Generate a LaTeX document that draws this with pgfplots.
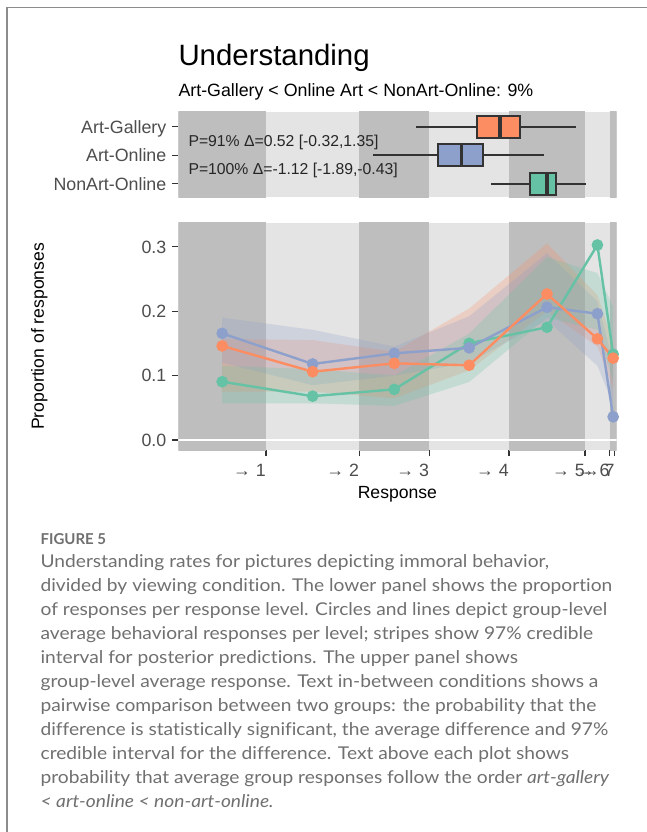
\documentclass[border=0pt]{standalone}
\usepackage{fontspec}
\setmainfont{Liberation Sans}
\newfontfamily\capfont[FakeStretch=1.09, Ligatures=NoCommon]{Lato}
\newfontfamily\figfont{Lato}
\usepackage{pgfplots}
\usepackage{pgfplotstable}
\usepgfplotslibrary{statistics}
\pgfplotsset{compat=1.18}

\definecolor{cAG}{HTML}{FC8D62}
\definecolor{cAO}{HTML}{8DA0CB}
\definecolor{cNA}{HTML}{66C2A5}
\definecolor{stripeD}{HTML}{BEBEBE}
\definecolor{stripeL}{HTML}{E4E4E4}
\definecolor{tickcol}{HTML}{333333}
\definecolor{ticklab}{HTML}{4D4D4D}
\definecolor{capgrey}{HTML}{707070}
\definecolor{framecol}{HTML}{8C8C8C}

% x = position on the latent response scale (panel units), per response level
\pgfplotstableread{
x      ag     ao     na
43.85  0.146  0.1655 0.0905
134.35 0.106  0.118  0.068
216.0  0.119  0.1345 0.0786
290.85 0.116  0.143  0.150
368.7  0.2266 0.206  0.175
419.1  0.157  0.196  0.3026
434.85 0.127  0.036  0.133
}\resp

\pgfplotsset{
  panel/.style={
    scale only axis, width=438.2bp, xmin=0, xmax=438.2,
    axis line style={draw=none},
    tick align=outside, major tick length=5.8bp,
    tick style={draw=tickcol, line width=1.1bp},
    tick pos=left,
    axis background/.style={fill=stripeL},
    ticklabel style={font=\fontsize{17.8bp}{20bp}\selectfont, text=ticklab},
  },
  stripe/.style={fill=stripeD, draw=none, forget plot},
}

\newcommand{\stripes}[2]{%
  \addplot[stripe] coordinates {(0,#1) (87.7,#1) (87.7,#2) (0,#2)} -- cycle;
  \addplot[stripe] coordinates {(181,#1) (251,#1) (251,#2) (181,#2)} -- cycle;
  \addplot[stripe] coordinates {(330.7,#1) (406.7,#1) (406.7,#2) (330.7,#2)} -- cycle;
  \addplot[stripe] coordinates {(431.5,#1) (438.2,#1) (438.2,#2) (431.5,#2)} -- cycle;
}

\begin{document}
\begin{tikzpicture}
\fill[white] (0,0) rectangle (647bp,-832bp);
\useasboundingbox (0,0) rectangle (647bp,-832bp);
\draw[framecol, line width=1.6bp] (6.7bp,-832bp) -- (6.7bp,-7.5bp) -- (647bp,-7.5bp);

\node[anchor=base west, inner sep=0pt] at (178.3bp,-65bp) {\fontsize{29.4bp}{32bp}\selectfont Understanding};
\node[anchor=base west, inner sep=0pt] at (178.3bp,-96bp) {\fontsize{17.8bp}{20bp}\selectfont Art-Gallery < Online Art < NonArt-Online: 9\%};

% upper panel
\begin{axis}[panel, at={(178.3bp,-197.3bp)}, anchor=south west, height=85.6bp,
  ymin=0.522, ymax=3.531, xtick=\empty,
  ytick={1,2,3}, yticklabels={NonArt-Online,Art-Online,Art-Gallery},
  yticklabel style={anchor=base east, inner sep=0pt, yshift=-6.4bp, xshift=-6bp},
  boxplot/whisker extend=0,
  boxplot/every median/.style={line width=3.6bp},
]
\stripes{0.5}{3.6}
\addplot[draw=tickcol, line width=2bp, fill=cAG, boxplot prepared={draw position=3,
  lower whisker=237.2, lower quartile=299.1, median=321.8, upper quartile=341.6, upper whisker=397.3, box extend=0.76}] coordinates {};
\addplot[draw=tickcol, line width=2bp, fill=cAO, boxplot prepared={draw position=2,
  lower whisker=195.1, lower quartile=259.9, median=283.0, upper quartile=304.5, upper whisker=365.5, box extend=0.76}] coordinates {};
\addplot[draw=tickcol, line width=2bp, fill=cNA, boxplot prepared={draw position=1,
  lower whisker=312.7, lower quartile=351.5, median=368.4, upper quartile=377.9, upper whisker=407.6, box extend=0.76}] coordinates {};
\node[anchor=base west, inner sep=0pt, text=black!85, font=\fontsize{15.75bp}{18bp}\selectfont] at (axis cs:10,2.30) {P=91\% Δ=0.52 [-0.32,1.35]};
\node[anchor=base west, inner sep=0pt, text=black!85, font=\fontsize{15.75bp}{18bp}\selectfont] at (axis cs:10,1.33) {P=100\% Δ=-1.12 [-1.89,-0.43]};
\end{axis}

% lower panel
\begin{axis}[panel, at={(178.3bp,-450bp)}, anchor=south west, height=227.3bp,
  ymin=-0.0155, ymax=0.3372,
  ytick={0,0.1,0.2,0.3}, yticklabels={0.0,0.1,0.2,0.3},
  yticklabel style={anchor=base east, inner sep=0pt, yshift=-6.4bp, xshift=-6bp},
  xtick={87.7,181,251,330.7,406.7,431.5,436.5},
  xticklabels={→ 1,→ 2,→ 3,→ 4,→ 5,→ 6,→ 7},
  xticklabel style={anchor=base east, inner sep=0pt, yshift=-21bp},
  xlabel={Response}, ylabel={Proportion of responses},
  label style={font=\fontsize{17.6bp}{20bp}\selectfont, text=black},
  xlabel style={at={(axis description cs:0.5,-0.2125)}, anchor=base, inner sep=0pt},
  ylabel style={at={(axis description cs:-0.3174,0.5)}, anchor=center, inner sep=0pt},
]
\stripes{-0.02}{0.34}
\addplot[white, line width=2bp, forget plot] coordinates {(0,0) (438.2,0)};
% 97% credible bands (upper bound left to right, then lower bound right to left)
\addplot[fill=cAG, fill opacity=0.25, draw=none, forget plot] coordinates {
  (43.85,0.157) (134.35,0.155) (216,0.137) (290.85,0.204) (368.7,0.305) (419.1,0.225) (434.85,0.150)
  (434.85,0.080) (419.1,0.145) (368.7,0.200) (290.85,0.108) (216,0.065) (134.35,0.075) (43.85,0.075)} -- cycle;
\addplot[fill=cAO, fill opacity=0.25, draw=none, forget plot] coordinates {
  (43.85,0.190) (134.35,0.171) (216,0.145) (290.85,0.192) (368.7,0.290) (419.1,0.215) (434.85,0.120)
  (434.85,0.055) (419.1,0.115) (368.7,0.186) (290.85,0.120) (216,0.100) (134.35,0.085) (43.85,0.120)} -- cycle;
\addplot[fill=cNA, fill opacity=0.25, draw=none, forget plot] coordinates {
  (43.85,0.115) (134.35,0.110) (216,0.100) (290.85,0.165) (368.7,0.284) (419.1,0.259) (434.85,0.207)
  (434.85,0.090) (419.1,0.171) (368.7,0.190) (290.85,0.090) (216,0.053) (134.35,0.057) (43.85,0.057)} -- cycle;
\addplot[cNA, line width=2.4bp, mark=*, mark size=4.6bp, mark options={solid, draw=none, fill=cNA}] table[x=x,y=na]{\resp};
\addplot[cAO, line width=2.4bp, mark=*, mark size=4.6bp, mark options={solid, draw=none, fill=cAO}] table[x=x,y=ao]{\resp};
\addplot[cAG, line width=2.4bp, mark=*, mark size=4.6bp, mark options={solid, draw=none, fill=cAG}] table[x=x,y=ag]{\resp};
\end{axis}

% caption
\node[anchor=base west, inner sep=0pt, text=capgrey] at (40.4bp,-544.3bp) {\figfont\bfseries\fontsize{15bp}{18bp}\selectfont FIGURE 5};
\begin{scope}[every node/.style={anchor=base west, inner sep=0pt, text=capgrey, font=\capfont\fontsize{17.6bp}{24bp}\selectfont}]
\node at (40.4bp,-567.7bp) {Understanding rates for pictures depicting immoral behavior,};
\node at (40.4bp,-591.7bp) {divided by viewing condition. The lower panel shows the proportion};
\node at (40.4bp,-615.7bp) {of responses per response level. Circles and lines depict group-level};
\node at (40.4bp,-639.7bp) {average behavioral responses per level; stripes show 97\% credible};
\node at (40.4bp,-663.7bp) {interval for posterior predictions. The upper panel shows};
\node at (40.4bp,-687.7bp) {group-level average response. Text in-between conditions shows a};
\node at (40.4bp,-711.7bp) {pairwise comparison between two groups: the probability that the};
\node at (40.4bp,-735.7bp) {difference is statistically significant, the average difference and 97\%};
\node at (40.4bp,-759.7bp) {credible interval for the difference. Text above each plot shows};
\node at (40.4bp,-783.7bp) {probability that average group responses follow the order \textit{art-gallery}};
\node at (40.4bp,-807.7bp) {\textit{< art-online < non-art-online.}};
\end{scope}
\end{tikzpicture}
\end{document}
